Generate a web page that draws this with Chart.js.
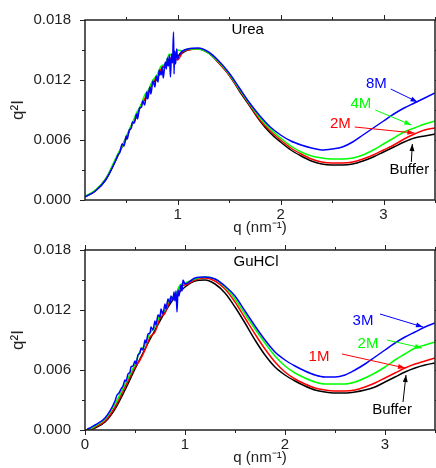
<!DOCTYPE html>
<html>
<head>
<meta charset="utf-8">
<script src="https://cdn.jsdelivr.net/npm/chart.js@4"></script>
<style>
  body { margin: 0; background: #fff; overflow: hidden; width: 436px; height: 468px; position: relative; }
  canvas { position: absolute; left: 0; }
  #urea { top: 0; }
  #guhcl { top: 230px; }
</style>
</head>
<body>
<canvas id="urea" width="436" height="238"></canvas>
<canvas id="guhcl" width="436" height="238"></canvas>
<script>
// axis ticks
const ureaXTicks = [1, 2, 3];
const guXTicks = [0, 1, 2, 3];
const xMinorTicks = [0.5, 1.5, 2.5, 3.5];
const yTicks = [0, 0.006, 0.012, 0.018];
const yMinorTicks = [0.003, 0.009, 0.015];

// Urea panel: [q, q^2 I]
const ureaBuffer = [[0.1,0.00033],[0.2,0.0009],[0.3,0.0020],[0.4,0.0040],[0.45,0.0051],[0.5,0.0061],[0.55,0.0074],[0.6,0.0083],[0.65,0.0096],[0.7,0.0103],[0.75,0.0116],[0.8,0.0121],[0.85,0.0132],[0.9,0.0135],[0.95,0.0142],[1.0,0.0144],[1.1,0.0150],[1.2,0.0151],[1.3,0.0147],[1.4,0.0137],[1.5,0.0125],[1.6,0.0109],[1.7,0.0094],[1.8,0.0079],[1.9,0.0067],[2.0,0.0058],[2.1,0.0050],[2.2,0.0044],[2.3,0.0039],[2.4,0.0036],[2.5,0.0035],[2.6,0.0035],[2.7,0.0036],[2.8,0.0039],[2.9,0.0043],[3.0,0.0048],[3.1,0.0053],[3.2,0.0058],[3.3,0.0062],[3.4,0.0064],[3.5,0.0066]];
const urea2M = [[0.1,0.00035],[0.2,0.0009],[0.3,0.0021],[0.4,0.0041],[0.45,0.0052],[0.5,0.0063],[0.55,0.0074],[0.6,0.0085],[0.65,0.0096],[0.7,0.0105],[0.75,0.0117],[0.8,0.0123],[0.85,0.0133],[0.9,0.0136],[0.95,0.0143],[1.0,0.0140],[1.05,0.0148],[1.1,0.0150],[1.2,0.0151],[1.3,0.0147],[1.4,0.0137],[1.5,0.0125],[1.6,0.0110],[1.7,0.0095],[1.8,0.0080],[1.9,0.0069],[2.0,0.0060],[2.1,0.0052],[2.2,0.0046],[2.3,0.0041],[2.4,0.0038],[2.5,0.0037],[2.6,0.0037],[2.7,0.0038],[2.8,0.0041],[2.9,0.0045],[3.0,0.0050],[3.1,0.0055],[3.2,0.0061],[3.3,0.0066],[3.4,0.0070],[3.5,0.0072]];
const urea4M = [[0.1,0.00035],[0.2,0.0010],[0.3,0.0021],[0.4,0.0042],[0.44,0.0050],[0.48,0.0058],[0.52,0.0068],[0.56,0.0077],[0.6,0.0087],[0.64,0.0094],[0.68,0.0105],[0.72,0.0111],[0.76,0.0120],[0.8,0.0125],[0.84,0.0134],[0.88,0.0136],[0.92,0.0146],[0.96,0.0143],[1.0,0.0150],[1.05,0.0149],[1.1,0.0151],[1.2,0.0151],[1.3,0.0147],[1.4,0.0138],[1.5,0.0126],[1.6,0.0111],[1.7,0.0096],[1.8,0.0082],[1.9,0.0071],[2.0,0.0062],[2.1,0.0054],[2.2,0.0048],[2.3,0.0044],[2.4,0.0042],[2.5,0.0041],[2.6,0.0041],[2.7,0.0042],[2.8,0.0045],[2.9,0.0050],[3.0,0.0056],[3.1,0.0062],[3.2,0.0068],[3.3,0.0072],[3.4,0.0076],[3.5,0.0079]];
const urea8M = [[0.1,0.0003],[0.2,0.0009],[0.3,0.0020],[0.4,0.0040],[0.42,0.0045],[0.44,0.0048],[0.46,0.0056],[0.48,0.0054],[0.5,0.0064],[0.51,0.0061],[0.53,0.0070],[0.55,0.0072],[0.56,0.0078],[0.58,0.0077],[0.6,0.0086],[0.61,0.0081],[0.63,0.0092],[0.65,0.0093],[0.66,0.0099],[0.68,0.0095],[0.7,0.0108],[0.71,0.0101],[0.73,0.0113],[0.74,0.0106],[0.76,0.0119],[0.78,0.0113],[0.79,0.0124],[0.81,0.0118],[0.82,0.0130],[0.84,0.0125],[0.85,0.0133],[0.86,0.0122],[0.88,0.0138],[0.89,0.0131],[0.9,0.0142],[0.91,0.0134],[0.92,0.0145],[0.93,0.0123],[0.94,0.0146],[0.95,0.0137],[0.96,0.0168],[0.965,0.0126],[0.97,0.0149],[0.98,0.0136],[0.99,0.0151],[1.0,0.0141],[1.02,0.0146],[1.1,0.0151],[1.2,0.0152],[1.3,0.0148],[1.4,0.0139],[1.5,0.0127],[1.6,0.0112],[1.7,0.0097],[1.8,0.0084],[1.9,0.0073],[2.0,0.0065],[2.1,0.0059],[2.2,0.0055],[2.3,0.0052],[2.4,0.0050],[2.5,0.0051],[2.6,0.0053],[2.7,0.0058],[2.8,0.0065],[2.9,0.0072],[3.0,0.0079],[3.1,0.0086],[3.2,0.0092],[3.3,0.0097],[3.4,0.0102],[3.5,0.0107]];

// GuHCl panel: [q, q^2 I]
const guBuffer = [[0.0,0.0000],[0.05,0.0000],[0.1,0.0002],[0.2,0.0008],[0.3,0.0021],[0.4,0.0040],[0.5,0.0061],[0.6,0.0081],[0.7,0.0100],[0.8,0.0118],[0.9,0.0133],[1.0,0.0143],[1.1,0.0149],[1.2,0.0150],[1.3,0.0146],[1.4,0.0137],[1.5,0.0123],[1.6,0.0107],[1.7,0.0090],[1.8,0.0075],[1.9,0.0063],[2.0,0.0055],[2.1,0.0049],[2.2,0.0044],[2.3,0.0040],[2.4,0.0038],[2.5,0.0037],[2.6,0.0037],[2.7,0.0038],[2.8,0.0040],[2.9,0.0043],[3.0,0.0048],[3.1,0.0053],[3.2,0.0058],[3.3,0.0062],[3.4,0.0065],[3.5,0.0067]];
const gu1M = [[0.05,0.0000],[0.1,0.0003],[0.2,0.0009],[0.3,0.0023],[0.4,0.0043],[0.5,0.0063],[0.55,0.0070],[0.6,0.0080],[0.65,0.0093],[0.7,0.0098],[0.75,0.0112],[0.8,0.0117],[0.85,0.0129],[0.9,0.0132],[0.95,0.0144],[1.0,0.0145],[1.1,0.0150],[1.2,0.0152],[1.3,0.0149],[1.4,0.0141],[1.5,0.0128],[1.6,0.0112],[1.7,0.0096],[1.8,0.0081],[1.9,0.0068],[2.0,0.0058],[2.1,0.0051],[2.2,0.0046],[2.3,0.0042],[2.4,0.0040],[2.5,0.0039],[2.6,0.0039],[2.7,0.0040],[2.8,0.0043],[2.9,0.0047],[3.0,0.0052],[3.1,0.0057],[3.2,0.0062],[3.3,0.0066],[3.4,0.0069],[3.5,0.0072]];
const gu2M = [[0.05,0.0001],[0.1,0.0004],[0.2,0.0011],[0.3,0.0026],[0.4,0.0046],[0.5,0.0066],[0.55,0.0079],[0.6,0.0085],[0.65,0.0097],[0.7,0.0103],[0.75,0.0115],[0.8,0.0120],[0.85,0.0132],[0.9,0.0134],[0.95,0.0145],[1.0,0.0147],[1.1,0.0151],[1.2,0.0153],[1.3,0.0151],[1.4,0.0143],[1.5,0.0131],[1.6,0.0116],[1.7,0.0101],[1.8,0.0087],[1.9,0.0074],[2.0,0.0064],[2.1,0.0057],[2.2,0.0052],[2.3,0.0048],[2.4,0.0046],[2.5,0.0046],[2.6,0.0046],[2.7,0.0048],[2.8,0.0052],[2.9,0.0057],[3.0,0.0063],[3.1,0.0070],[3.2,0.0076],[3.3,0.0082],[3.4,0.0085],[3.5,0.0088]];
const gu3M = [[0.02,0.0001],[0.05,0.0002],[0.1,0.0005],[0.2,0.0012],[0.3,0.0029],[0.32,0.0035],[0.34,0.0037],[0.36,0.0041],[0.38,0.0044],[0.4,0.0050],[0.41,0.0049],[0.43,0.0056],[0.45,0.0058],[0.46,0.0063],[0.48,0.0064],[0.5,0.0069],[0.51,0.0066],[0.53,0.0075],[0.55,0.0077],[0.56,0.0082],[0.58,0.0080],[0.6,0.0090],[0.61,0.0087],[0.63,0.0096],[0.65,0.0097],[0.66,0.0103],[0.68,0.0100],[0.7,0.0109],[0.71,0.0105],[0.73,0.0115],[0.75,0.0113],[0.76,0.0121],[0.78,0.0116],[0.8,0.0126],[0.81,0.0121],[0.83,0.0131],[0.85,0.0127],[0.86,0.0134],[0.88,0.0130],[0.89,0.0138],[0.9,0.0129],[0.91,0.0139],[0.92,0.0118],[0.93,0.0140],[0.94,0.0134],[0.96,0.0145],[0.97,0.0139],[0.98,0.0150],[1.0,0.0146],[1.1,0.0152],[1.2,0.0153],[1.3,0.0151],[1.4,0.0144],[1.5,0.0134],[1.6,0.0119],[1.7,0.0104],[1.8,0.0090],[1.9,0.0078],[2.0,0.0070],[2.1,0.0064],[2.2,0.0059],[2.3,0.0055],[2.4,0.0053],[2.5,0.0053],[2.6,0.0055],[2.7,0.0060],[2.8,0.0066],[2.9,0.0073],[3.0,0.0080],[3.1,0.0087],[3.2,0.0093],[3.3,0.0098],[3.4,0.0103],[3.5,0.0107]];

const BLUE = '#0000ff', GREEN = '#00ff00', RED = '#ff0000', BLACK = '#000000';
const FONT = '"Liberation Sans", Arial, sans-serif';

// labels and arrows, placed in data units (q, q^2 I)
const ureaNotes = [
  { text: '8M', color: BLUE, at: [2.93, 0.0116], from: [3.07, 0.0111], to: [3.33, 0.0098] },
  { text: '4M', color: GREEN, at: [2.78, 0.0096], from: [2.92, 0.0090], to: [3.27, 0.0075] },
  { text: '2M', color: RED, at: [2.58, 0.0076], from: [2.72, 0.0073], to: [3.30, 0.0067] },
  { text: 'Buffer', color: BLACK, at: [3.25, 0.0030], from: [3.27, 0.0038], to: [3.28, 0.0056] },
  { text: 'Urea', color: BLACK, at: [1.68, 0.0170] }
];
const guNotes = [
  { text: '3M', color: BLUE, at: [2.78, 0.0109], from: [2.95, 0.0116], to: [3.38, 0.0103] },
  { text: '2M', color: GREEN, at: [2.83, 0.0086], from: [3.02, 0.0090], to: [3.37, 0.0082] },
  { text: '1M', color: RED, at: [2.34, 0.0073], from: [2.57, 0.0076], to: [3.20, 0.0062] },
  { text: 'Buffer', color: BLACK, at: [3.07, 0.0020], from: [3.18, 0.0028], to: [3.21, 0.0055] },
  { text: 'GuHCl', color: BLACK, at: [1.71, 0.0168] }
];

function toXY(pairs) {
  return pairs.map(p => ({ x: p[0], y: p[1] }));
}

function drawArrow(ctx, x1, y1, x2, y2, color) {
  ctx.strokeStyle = color;
  ctx.fillStyle = color;
  ctx.lineWidth = 1;
  ctx.beginPath();
  ctx.moveTo(x1, y1);
  ctx.lineTo(x2, y2);
  ctx.stroke();
  let ang = Math.atan2(y2 - y1, x2 - x1), L = 7, W = 2.5;
  let c = Math.cos(ang), s = Math.sin(ang);
  ctx.beginPath();
  ctx.moveTo(x2, y2);
  ctx.lineTo(x2 - L * c + W * s, y2 - L * s - W * c);
  ctx.lineTo(x2 - L * c - W * s, y2 - L * s + W * c);
  ctx.closePath();
  ctx.fill();
}

// frame with mirrored major and minor ticks
const frameTicks = {
  id: 'frameTicks',
  afterDraw(chart) {
    let ctx = chart.ctx, a = chart.chartArea;
    let xs = chart.scales.x, ys = chart.scales.y;
    ctx.save();
    ctx.strokeStyle = '#222';
    ctx.lineWidth = 1;
    ctx.beginPath();
    let xMajor = xs.ticks.map(t => t.value);
    function xTick(v, len) {
      if (v < xs.min || v > xs.max) return;
      let px = Math.round(xs.getPixelForValue(v)) + 0.5;
      ctx.moveTo(px, a.bottom); ctx.lineTo(px, a.bottom + len);
      ctx.moveTo(px, a.top); ctx.lineTo(px, a.top - len);
    }
    function yTick(v, len) {
      let py = Math.round(ys.getPixelForValue(v)) + 0.5;
      ctx.moveTo(a.left, py); ctx.lineTo(a.left - len, py);
      ctx.moveTo(a.right, py); ctx.lineTo(a.right + len, py);
    }
    xMajor.forEach(v => xTick(v, 5));
    xMinorTicks.forEach(v => xTick(v, 3));
    yTicks.forEach(v => yTick(v, 5));
    yMinorTicks.forEach(v => yTick(v, 3));
    ctx.stroke();
    ctx.lineWidth = 1.5;
    ctx.strokeRect(a.left, a.top, a.right - a.left, a.bottom - a.top);
    ctx.restore();
  }
};

function makeNotes(items) {
  return {
    id: 'notes',
    afterDatasetsDraw(chart) {
      let ctx = chart.ctx, xs = chart.scales.x, ys = chart.scales.y;
      ctx.save();
      ctx.font = '15px ' + FONT;
      ctx.textAlign = 'center';
      ctx.textBaseline = 'middle';
      items.forEach(n => {
        ctx.fillStyle = n.color;
        ctx.fillText(n.text, xs.getPixelForValue(n.at[0]), ys.getPixelForValue(n.at[1]));
        if (n.from) {
          drawArrow(ctx,
            xs.getPixelForValue(n.from[0]), ys.getPixelForValue(n.from[1]),
            xs.getPixelForValue(n.to[0]), ys.getPixelForValue(n.to[1]), n.color);
        }
      });
      ctx.restore();
    }
  };
}

function makeChart(id, xMin, xTicks, series, notes) {
  let colors = [BLUE, GREEN, RED, BLACK];
  let datasets = series.map((s, i) => ({
    data: toXY(s),
    borderColor: colors[i],
    borderWidth: 1.5,
    pointRadius: 0,
    fill: false,
    cubicInterpolationMode: 'monotone'
  }));
  return new Chart(document.getElementById(id), {
    type: 'line',
    data: { datasets: datasets },
    options: {
      responsive: false,
      animation: false,
      devicePixelRatio: 1,
      layout: { padding: { top: 20, right: 1, left: 0, bottom: 0 } },
      plugins: { legend: { display: false }, tooltip: { enabled: false } },
      scales: {
        x: {
          type: 'linear',
          min: xMin,
          max: 3.5,
          grid: { display: false },
          border: { display: false },
          afterBuildTicks: s => { s.ticks = xTicks.map(v => ({ value: v })); },
          afterFit: s => { s.height = 38; },
          ticks: {
            padding: -2,
            color: '#222',
            font: { family: FONT, size: 15 },
            callback: v => String(v)
          },
          title: {
            display: true,
            text: 'q (nm⁻¹)',
            color: '#222',
            padding: { top: 0, bottom: 1 },
            font: { family: FONT, size: 15 }
          }
        },
        y: {
          min: 0,
          max: 0.018,
          grid: { display: false },
          border: { display: false },
          afterBuildTicks: s => { s.ticks = yTicks.map(v => ({ value: v })); },
          afterFit: s => { s.width = 85; },
          ticks: {
            padding: 6,
            color: '#222',
            font: { family: FONT, size: 15 },
            callback: v => Number(v).toFixed(3)
          },
          title: {
            display: true,
            text: 'q²I',
            color: '#222',
            padding: { top: 8, bottom: 0 },
            font: { family: FONT, size: 17 }
          }
        }
      }
    },
    plugins: [frameTicks, makeNotes(notes)]
  });
}

makeChart('urea', 0.1, ureaXTicks, [urea8M, urea4M, urea2M, ureaBuffer], ureaNotes);
makeChart('guhcl', 0, guXTicks, [gu3M, gu2M, gu1M, guBuffer], guNotes);
</script>
</body>
</html>
